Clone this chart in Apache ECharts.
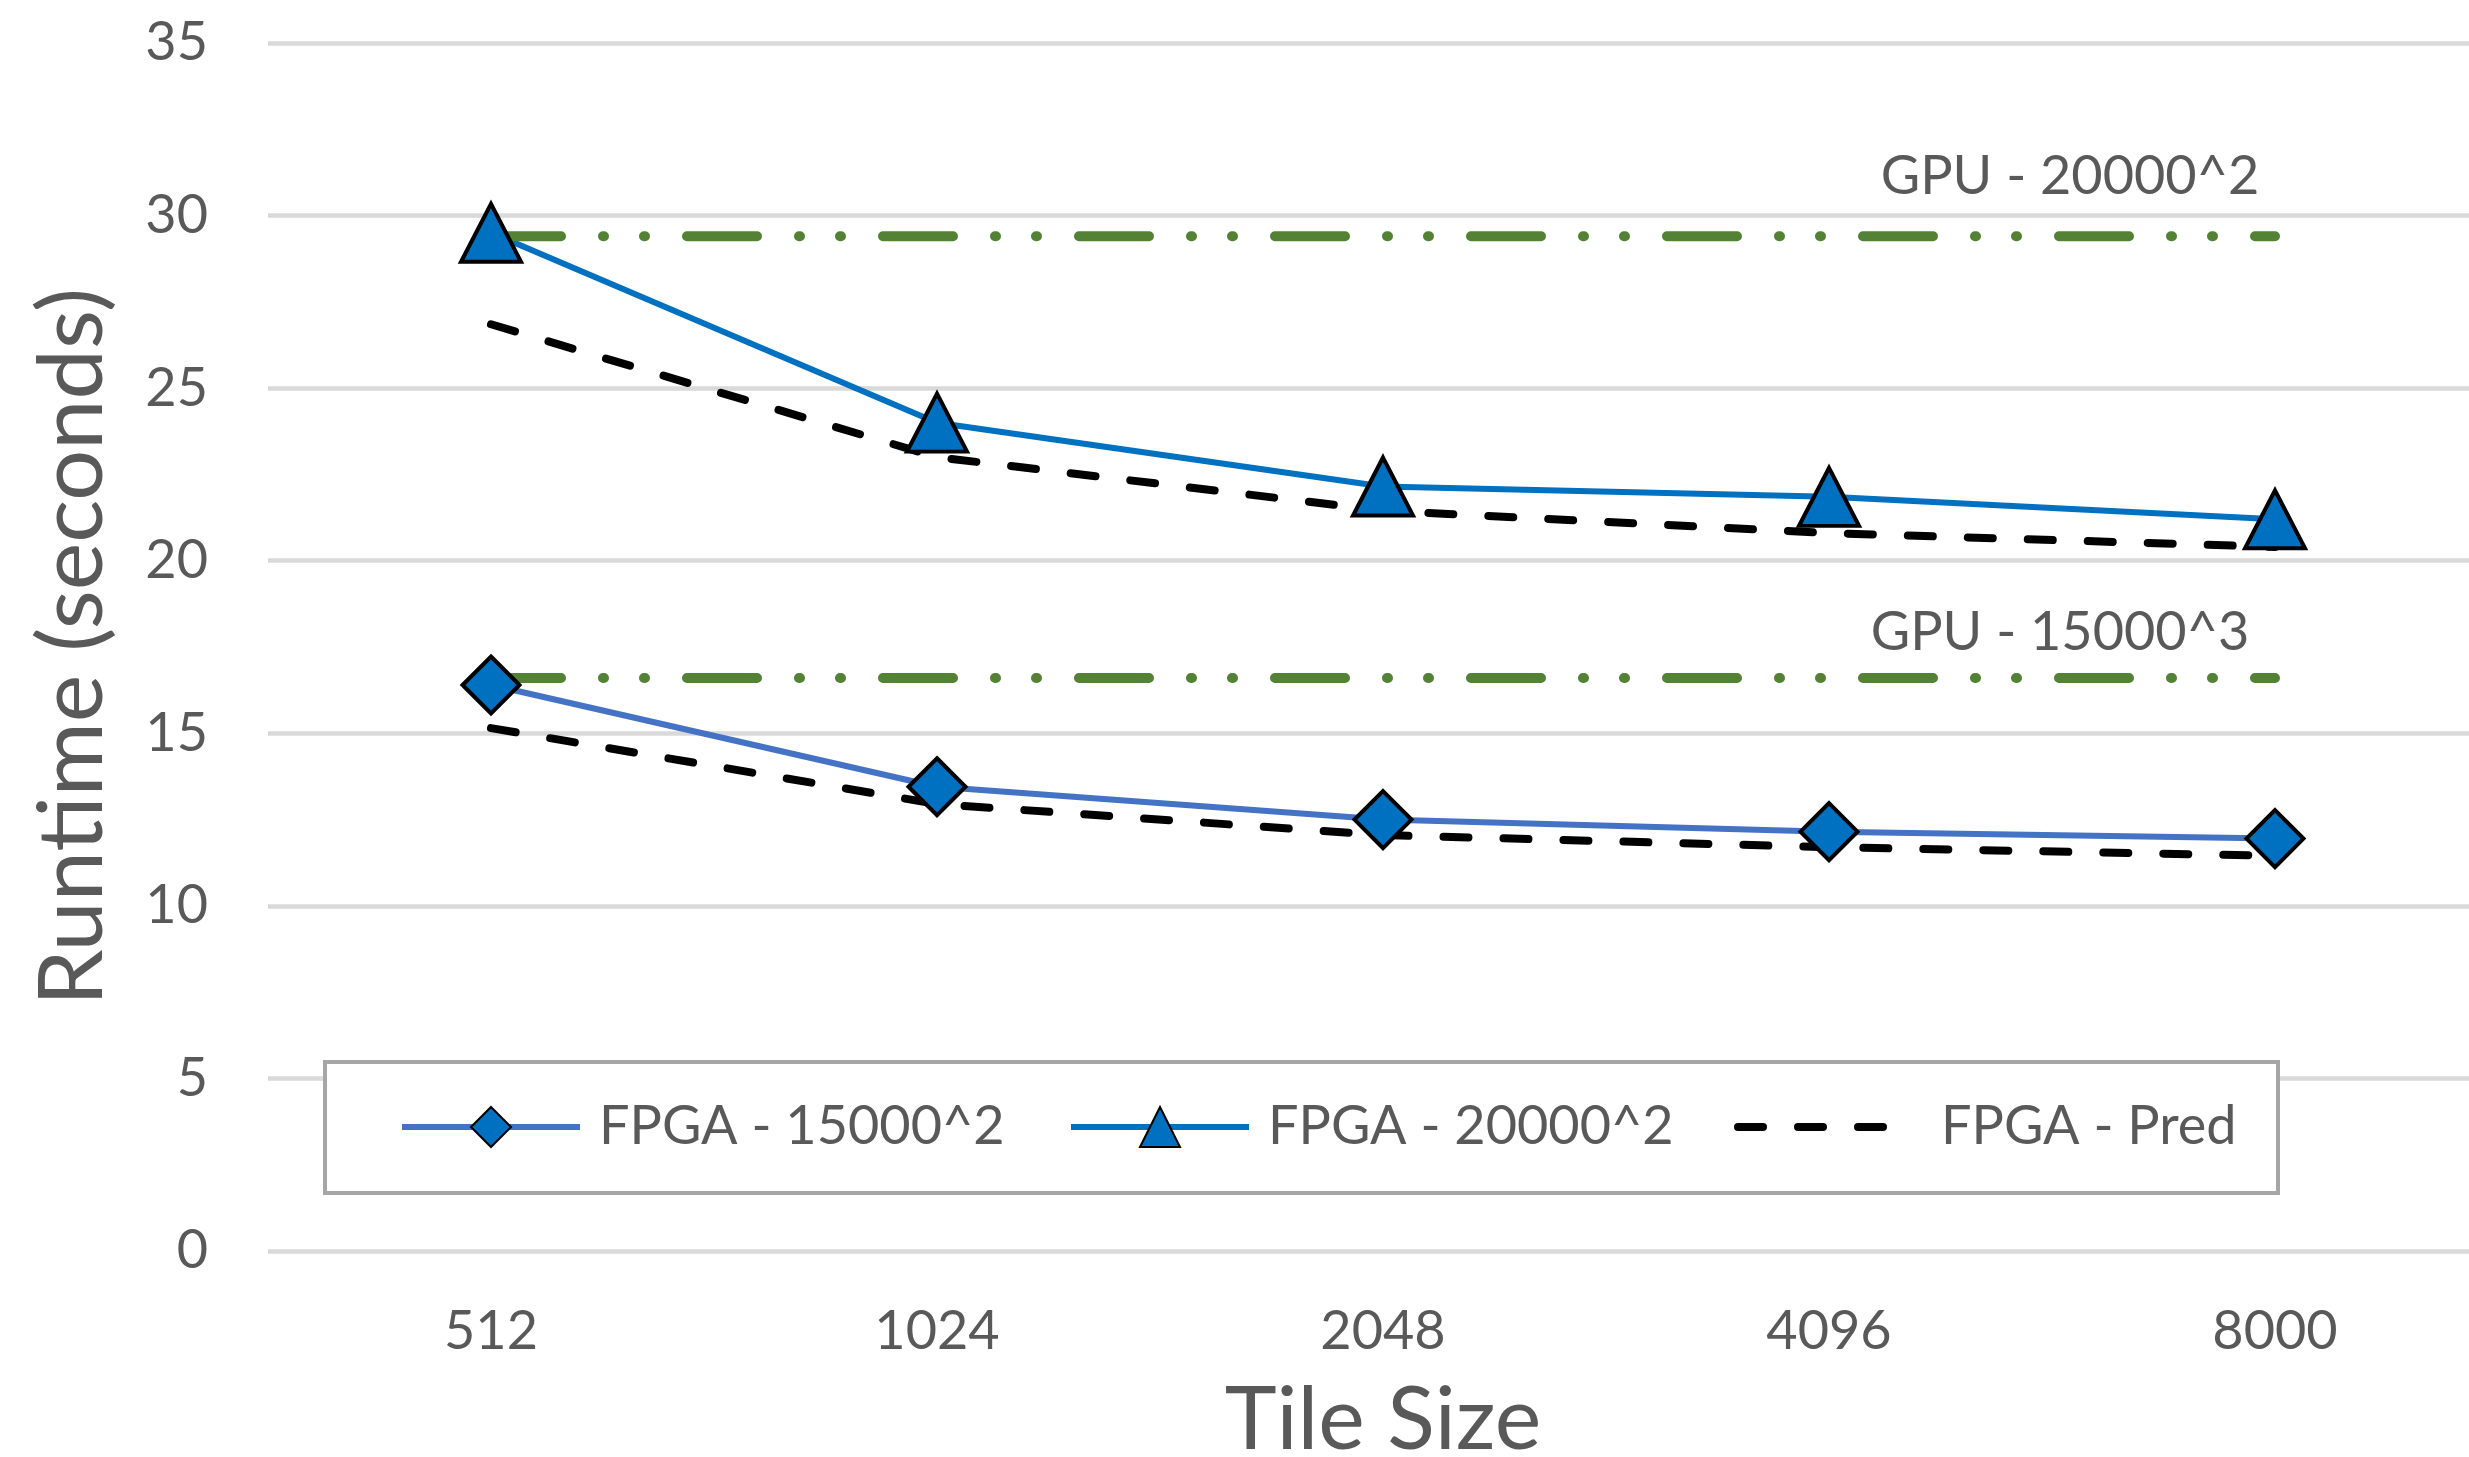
<!DOCTYPE html>
<html>
<head>
<meta charset="utf-8">
<script src="https://cdn.jsdelivr.net/npm/echarts@6/dist/echarts.min.js"></script>
<style>
html,body{margin:0;padding:0;background:#fff;}
#chart{width:2469px;height:1457px;}
</style>
</head>
<body>
<div id="chart"></div>
<script>
// ---- data ----
var categories = ['512', '1024', '2048', '4096', '8000'];
var yTicks = [0, 5, 10, 15, 20, 25, 30, 35];
var fpga15 = [16.4, 13.45, 12.5, 12.15, 11.95];
var fpga20 = [29.5, 24.0, 22.15, 21.85, 21.2];
var pred15 = [15.15, 12.95, 12.05, 11.7, 11.45];
var pred20 = [26.85, 23.0, 21.45, 20.8, 20.4];
var gpu15 = [16.6, 16.6, 16.6, 16.6, 16.6];
var gpu20 = [29.4, 29.4, 29.4, 29.4, 29.4];
var seriesNames = ['FPGA - 15000^2', 'FPGA - 20000^2', 'FPGA - Pred'];
var gpuNames = ['GPU - 15000^3', 'GPU - 20000^2'];

var FONT = 'Lato';
var TXT = '#595959';
var chart = echarts.init(document.getElementById('chart'), null, {renderer: 'canvas'});

var gpuLine = {color: '#548235', width: 10, cap: 'round', type: [70, 42, 1, 40, 1, 42]};
var predLine = {color: '#000000', width: 8, cap: 'round', type: [25, 35]};

function legendFor(name, left, pad, lw) {
  return {
    data: [name], left: left, top: 1100, padding: 0, orient: 'horizontal',
    itemWidth: 178, itemHeight: 50, z: 10,
    selectedMode: false,
    lineStyle: {width: lw},
    textStyle: {fontFamily: FONT, fontSize: 54, color: TXT, padding: [0, 0, 0, pad]}
  };
}

var option = {
  backgroundColor: '#ffffff',
  animation: false,
  grid: {left: 268, right: -29, top: 43, bottom: 206, containLabel: false, outerBoundsMode: 'none'},
  xAxis: {
    type: 'category', data: categories, boundaryGap: true,
    axisLine: {show: false}, axisTick: {show: false},
    axisLabel: {fontFamily: FONT, fontSize: 54, color: TXT, margin: 54},
    name: 'Tile Size', nameLocation: 'middle', nameGap: 126,
    nameTextStyle: {fontFamily: FONT, fontSize: 88, color: TXT}
  },
  yAxis: {
    type: 'value', min: yTicks[0], max: yTicks[yTicks.length - 1], interval: 5,
    axisLine: {show: false}, axisTick: {show: false},
    splitLine: {lineStyle: {color: '#D9D9D9', width: 4.5}},
    axisLabel: {fontFamily: FONT, fontSize: 54, color: TXT, margin: 60},
    name: 'Runtime (seconds)', nameLocation: 'middle', nameGap: 150, nameRotate: 90,
    nameTextStyle: {fontFamily: FONT, fontSize: 90, color: TXT}
  },
  legend: [
    legendFor(seriesNames[0], 399, 14, 6),
    legendFor(seriesNames[1], 1068, 14, 6),
    (function(){ var l = legendFor(seriesNames[2], 1734, 20, 8);
      l.data = [{name: seriesNames[2], itemStyle: {opacity: 0}}]; return l; })()
  ],
  series: [
    {
      name: seriesNames[0], type: 'line', data: fpga15,
      symbol: 'diamond', symbolSize: 57,
      lineStyle: {color: '#4472C4', width: 6},
      itemStyle: {color: '#0070C0', borderColor: '#000000', borderWidth: 4}
    },
    {
      name: seriesNames[1], type: 'line', data: fpga20,
      symbol: 'triangle', symbolSize: [60, 58],
      lineStyle: {color: '#0070C0', width: 6},
      itemStyle: {color: '#0070C0', borderColor: '#000000', borderWidth: 4}
    },
    {
      name: seriesNames[2], type: 'line', data: pred15,
      symbol: 'none', lineStyle: predLine, itemStyle: {color: '#000000'}
    },
    {
      name: seriesNames[2], type: 'line', data: pred20,
      symbol: 'none', lineStyle: predLine, itemStyle: {color: '#000000'}
    },
    {
      name: gpuNames[1], type: 'line', data: gpu20,
      symbol: 'none', lineStyle: gpuLine, itemStyle: {color: '#548235'}
    },
    {
      name: gpuNames[0], type: 'line', data: gpu15,
      symbol: 'none', lineStyle: gpuLine, itemStyle: {color: '#548235'}
    }
  ],
  graphic: [
    {
      type: 'rect', z: 3, silent: true,
      shape: {x: 325, y: 1062, width: 1953, height: 131},
      style: {fill: '#ffffff', stroke: '#A6A6A6', lineWidth: 4}
    }
  ]
};
chart.setOption(option);

// GPU annotations anchored to the GPU lines
var p20 = chart.convertToPixel({xAxisIndex: 0, yAxisIndex: 0}, [3, gpu20[3]]);
var p15 = chart.convertToPixel({xAxisIndex: 0, yAxisIndex: 0}, [3, gpu15[3]]);
chart.setOption({
  graphic: [
    {
      type: 'rect', z: 3, silent: true,
      shape: {x: 325, y: 1062, width: 1953, height: 131},
      style: {fill: '#ffffff', stroke: '#A6A6A6', lineWidth: 4}
    },
    {
      type: 'text', z: 5, x: p20[0] + 241, y: p20[1] - 60,
      style: {text: gpuNames[1], fontFamily: FONT, fontSize: 54, fill: TXT, align: 'center', verticalAlign: 'middle'}
    },
    {
      type: 'text', z: 5, x: p15[0] + 231, y: p15[1] - 45,
      style: {text: gpuNames[0], fontFamily: FONT, fontSize: 54, fill: TXT, align: 'center', verticalAlign: 'middle'}
    }
  ]
});
</script>
</body>
</html>
